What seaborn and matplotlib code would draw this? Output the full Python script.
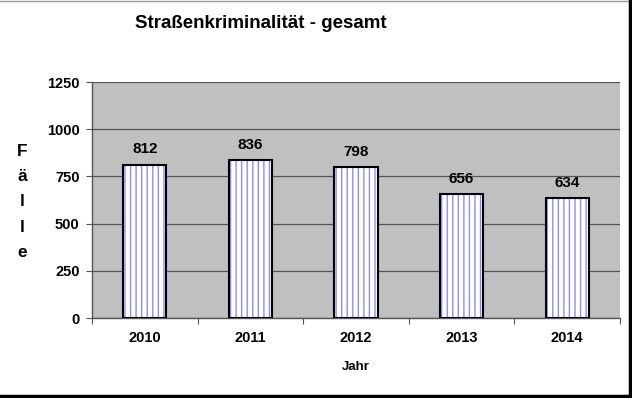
import matplotlib
matplotlib.use("Agg")
import matplotlib.pyplot as plt
import seaborn as sns
import pandas as pd
from matplotlib.patches import Rectangle
from matplotlib.lines import Line2D

# ---------------- DATA ----------------
years = ["2010", "2011", "2012", "2013", "2014"]
cases = [812, 836, 798, 656, 634]
y_ticks = [0, 250, 500, 750, 1000, 1250]

TITLE = "Straßenkriminalität - gesamt"
X_LABEL = "Jahr"
Y_LABEL = "F\nä\nl\nl\ne"

df = pd.DataFrame({"Jahr": years, "Faelle": cases})

# ---------------- STYLE ----------------
sns.set_style("white")
plt.rcParams["font.family"] = ["Liberation Sans", "DejaVu Sans"]
plt.rcParams["font.weight"] = "bold"
plt.rcParams["text.color"] = "black"
plt.rcParams["xtick.color"] = "black"
plt.rcParams["ytick.color"] = "black"
plt.rcParams["axes.labelcolor"] = "black"
plt.rcParams["hatch.linewidth"] = 1.0

# ---------------- PLOT ----------------
fig = plt.figure(figsize=(6.32, 3.98), dpi=100)
ax = fig.add_axes([92 / 632, 80 / 398, 528 / 632, 236 / 398])
ax.set_facecolor("#c0c0c0")

sns.barplot(data=df, x="Jahr", y="Faelle", color="white", width=0.41,
            edgecolor="#8c8cff", linewidth=0, hatch="|||", ax=ax, zorder=2)

# black outline on top of the hatched bars + value labels
for p, v in zip(ax.patches, cases):
    ax.add_patch(Rectangle(p.get_xy(), p.get_width(), p.get_height(),
                           fill=False, edgecolor="black", linewidth=1.5, zorder=3))
    ax.annotate(str(v), (p.get_x() + p.get_width() / 2, p.get_height()),
                xytext=(0, 6), textcoords="offset points",
                ha="center", va="bottom", fontsize=11, fontweight="bold")

ax.set_xlim(-0.5, len(years) - 0.5)
ax.set_ylim(0, 1250)
ax.set_yticks(y_ticks)
ax.yaxis.grid(True, color="#555555", linewidth=0.9, zorder=1)
ax.set_axisbelow(True)

# tick marks between categories
ax.set_xticks([i - 0.5 for i in range(len(years) + 1)], minor=True)
ax.tick_params(axis="x", which="major", length=0, pad=9, labelsize=10.5)
ax.tick_params(axis="x", which="minor", length=4, width=0.8, color="#555555", direction="out", bottom=True)
ax.tick_params(axis="y", length=4, width=0.8, color="#555555", direction="out", left=True, pad=5, labelsize=10.5)
for lbl in ax.get_xticklabels() + ax.get_yticklabels():
    lbl.set_fontweight("bold")

for side in ["top", "right"]:
    ax.spines[side].set_visible(False)
for side in ["left", "bottom"]:
    ax.spines[side].set_color("#555555")
    ax.spines[side].set_linewidth(1.0)

ax.set_xlabel(X_LABEL, fontsize=9.5, fontweight="bold", labelpad=12)
ax.set_ylabel("")

fig.text(261 / 632, 1 - 23 / 398, TITLE, ha="center", va="center",
         fontsize=13.5, fontweight="bold")
fig.text(22 / 632, 1 - 202 / 398, Y_LABEL, ha="center", va="center",
         fontsize=12.5, fontweight="bold", linespacing=1.85)

# frame of the chart area
fig.add_artist(Line2D([0, 1], [0.998, 0.998], transform=fig.transFigure, color="#999999", linewidth=1))
fig.add_artist(Line2D([0.997, 0.997], [0, 1], transform=fig.transFigure, color="black", linewidth=2.5))
fig.add_artist(Line2D([0, 1], [0.004, 0.004], transform=fig.transFigure, color="black", linewidth=2.5))

fig.savefig("out.png", dpi=100)
